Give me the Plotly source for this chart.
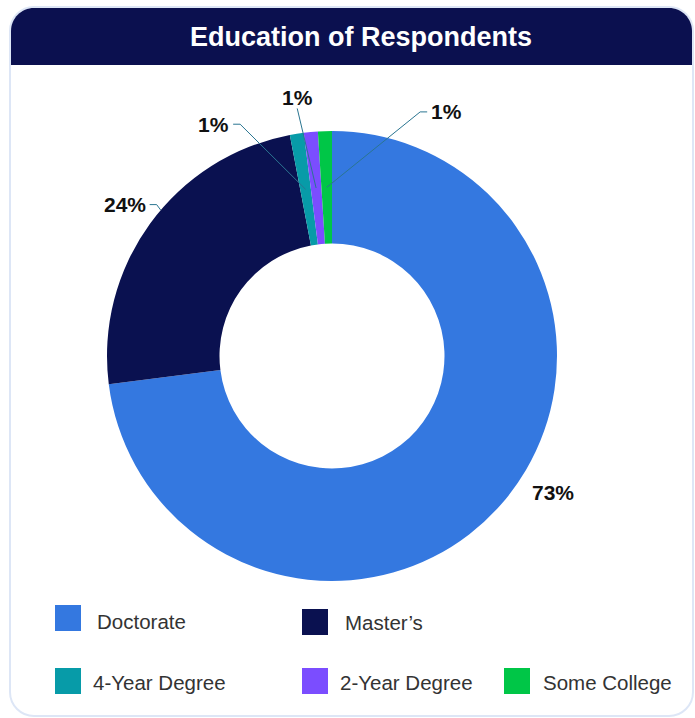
import math
import plotly.graph_objects as go

# ---- data ----
categories = ["Doctorate", "Master’s", "4-Year Degree", "2-Year Degree", "Some College"]
shares = [73, 24, 1, 1, 1]
slice_colors = ["#3478e0", "#0a1150", "#079ba8", "#7b4dff", "#00c647"]
title_text = "Education of Respondents"

# ---- canvas geometry (pixels) ----
W, H = 695, 718
CX, CY = 332, 356
R_OUT = 225
HOLE = 0.5
R_IN = R_OUT * HOLE
R_MID = (R_IN + R_OUT) / 2

FONT = "Liberation Sans"
LINE_COLOR = "#2a7591"


def px(x):
    return x / W


def py(y):
    return 1 - y / H


def pt(x, y):
    return f"{px(x):.5f},{py(y):.5f}"


def rounded_rect(x0, y0, x1, y1, r, round_bottom=True):
    k = 0.5523 * r
    p = f"M {pt(x0 + r, y0)} L {pt(x1 - r, y0)} "
    p += f"C {pt(x1 - r + k, y0)} {pt(x1, y0 + r - k)} {pt(x1, y0 + r)} "
    if round_bottom:
        p += f"L {pt(x1, y1 - r)} "
        p += f"C {pt(x1, y1 - r + k)} {pt(x1 - r + k, y1)} {pt(x1 - r, y1)} "
        p += f"L {pt(x0 + r, y1)} "
        p += f"C {pt(x0 + r - k, y1)} {pt(x0, y1 - r + k)} {pt(x0, y1 - r)} "
    else:
        p += f"L {pt(x1, y1)} L {pt(x0, y1)} "
    p += f"L {pt(x0, y0 + r)} "
    p += f"C {pt(x0, y0 + r - k)} {pt(x0 + r - k, y0)} {pt(x0 + r, y0)} Z"
    return p


fig = go.Figure()

fig.add_trace(go.Pie(
    labels=categories,
    values=shares,
    sort=False,
    direction="clockwise",
    rotation=0,
    hole=HOLE,
    marker=dict(colors=slice_colors, line=dict(color="#ffffff", width=0)),
    textinfo="none",
    showlegend=False,
    domain=dict(x=[px(CX - R_OUT), px(CX + R_OUT)],
                y=[py(CY + R_OUT), py(CY - R_OUT)]),
))

shapes = []
annotations = []

# card frame and header band
shapes.append(dict(type="path", xref="paper", yref="paper", layer="below",
                   path=rounded_rect(10, 7, 693, 716, 24),
                   line=dict(color="#dde6f6", width=2), fillcolor="#ffffff"))
shapes.append(dict(type="path", xref="paper", yref="paper", layer="below",
                   path=rounded_rect(11, 8, 692, 65, 23, round_bottom=False),
                   line=dict(width=0), fillcolor="#0b104f"))
annotations.append(dict(text=title_text, x=px(361), y=py(37), xref="paper", yref="paper",
                        showarrow=False, xanchor="center", yanchor="middle",
                        font=dict(family=FONT, size=27, color="#ffffff", weight="bold")))

# ---- outside percentage labels with leader lines ----
label_shift = [-6.6, 3.7, -14.1, -2.6, 23.1]   # degrees, spreads crowded labels
label_radius = [239, 237, 252, 250, 262]
show_leader = [False, True, True, True, True]

total = sum(shares)
start = 0.0
for i, v in enumerate(shares):
    span = 360.0 * v / total
    mid = start + span / 2
    start += span

    pct = round(100.0 * v / total)
    ang = math.radians(mid + label_shift[i])
    tx = CX + label_radius[i] * math.sin(ang)
    ty = CY - label_radius[i] * math.cos(ang)

    ma = math.radians(mid)
    ax_ = CX + R_MID * math.sin(ma)
    ay_ = CY - R_MID * math.cos(ma)

    if abs(tx - CX) < 45:
        # label sits above its slice, line drops straight into the ring
        annotations.append(dict(text=f"{pct}%", x=px(tx), y=py(ty + 3), xref="paper", yref="paper",
                                showarrow=False, xanchor="center", yanchor="bottom",
                                font=dict(family=FONT, size=21, color="#111111", weight="bold")))
        elbow = (tx, ty)
    else:
        side = 1 if tx > CX else -1
        annotations.append(dict(text=f"{pct}%", x=px(tx + side * 2), y=py(ty), xref="paper", yref="paper",
                                showarrow=False, xanchor="left" if side > 0 else "right",
                                yanchor="middle",
                                font=dict(family=FONT, size=21, color="#111111", weight="bold")))
        elbow = (tx - side * 7, ty)

    if show_leader[i]:
        ex, ey = ax_, ay_
        if v >= 5:
            # stop the leader where it meets the outer rim of the slice
            dx, dy = ax_ - elbow[0], ay_ - elbow[1]
            fx, fy = elbow[0] - CX, elbow[1] - CY
            a = dx * dx + dy * dy
            b = 2 * (fx * dx + fy * dy)
            c = fx * fx + fy * fy - R_OUT * R_OUT
            t = (-b - math.sqrt(b * b - 4 * a * c)) / (2 * a)
            ex, ey = elbow[0] + t * dx, elbow[1] + t * dy
        path = f"M {pt(tx, ty)} L {pt(*elbow)} L {pt(ex, ey)}"
        shapes.append(dict(type="path", xref="paper", yref="paper", layer="above",
                           path=path, line=dict(color=LINE_COLOR, width=1)))

# ---- legend (swatch + caption) ----
legend_slots = [
    (55, 605, 95, 621),
    (302, 609, 343, 622),
    (55, 668, 91, 682),
    (302, 668, 338, 682),
    (504, 668, 541, 682),
]
SW = 26
for name, col, (sx, sy, lx, ly) in zip(categories, slice_colors, legend_slots):
    shapes.append(dict(type="rect", xref="paper", yref="paper", layer="above",
                       x0=px(sx), x1=px(sx + SW), y0=py(sy + SW), y1=py(sy),
                       fillcolor=col, line=dict(width=0)))
    annotations.append(dict(text=name, x=px(lx), y=py(ly), xref="paper", yref="paper",
                            showarrow=False, xanchor="left", yanchor="middle",
                            font=dict(family=FONT, size=20.5, color="#333333")))

fig.update_layout(
    width=W, height=H,
    margin=dict(l=0, r=0, t=0, b=0),
    paper_bgcolor="#ffffff",
    plot_bgcolor="#ffffff",
    shapes=shapes,
    annotations=annotations,
)

fig.write_html("out.html", config={"displayModeBar": False})
